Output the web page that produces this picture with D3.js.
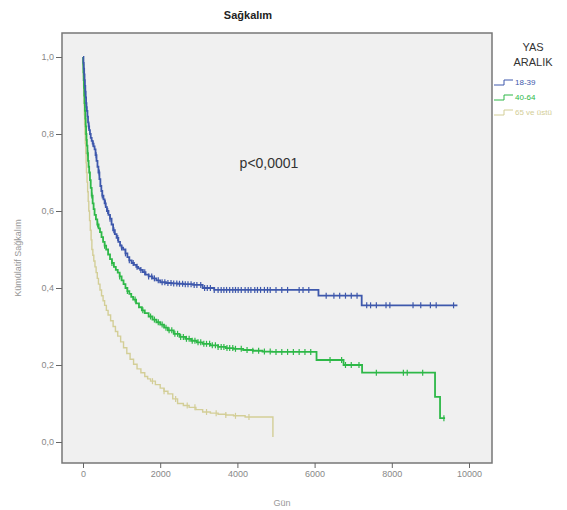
<!DOCTYPE html>
<html>
<head>
    <meta charset="utf-8" />
    <title>Sağkalım</title>
    <style>
        body { margin: 0; background: #fff; }
        text { font-family: Arial, "Liberation Sans", sans-serif; }
    </style>
</head>
<body>
<script src="https://d3js.org/d3.v7.min.js"></script>
<script>
    // groups and colours
    var groups = ["18-39", "40-64", "65 ve üstü"];
    var colors = ["#3e58ac", "#2eb848", "#d3ce97"];

    // Kaplan-Meier steps (gün, kümülatif sağkalım)
    var blueDays = [0, 10, 20, 30, 40, 50, 60, 70, 80, 90,
                    100, 115, 130, 145, 160, 180, 200, 225, 250, 275,
                    300, 325, 350, 375, 400, 425, 450, 475, 500, 530,
                    560, 590, 620, 660, 700, 740, 780, 825, 870, 915,
                    960, 1000, 1040, 1100, 1150, 1200, 1260, 1320, 1380, 1430,
                    1480, 1550, 1620, 1700, 1800, 1900, 2000, 2150, 2300, 2450,
                    2600, 2850, 3100, 3400, 6100, 7220, 9700];
    var blueSurv = [1.0, 0.985, 0.97, 0.955, 0.94, 0.925, 0.91, 0.895, 0.88, 0.87,
                    0.86, 0.845, 0.83, 0.82, 0.81, 0.80, 0.79, 0.782, 0.775, 0.768,
                    0.76, 0.745, 0.73, 0.715, 0.70, 0.683, 0.665, 0.652, 0.64, 0.63,
                    0.62, 0.61, 0.60, 0.59, 0.58, 0.565, 0.55, 0.54, 0.53, 0.52,
                    0.51, 0.505, 0.50, 0.49, 0.48, 0.472, 0.465, 0.46, 0.455, 0.451,
                    0.447, 0.441, 0.435, 0.43, 0.425, 0.42, 0.415, 0.413, 0.412, 0.411,
                    0.41, 0.408, 0.40, 0.395, 0.38, 0.355, 0.355];

    var greenDays = [0, 5, 10, 18, 25, 32, 40, 50, 60, 70,
                     80, 90, 100, 115, 130, 145, 160, 180, 200, 225,
                     250, 275, 300, 335, 370, 405, 440, 480, 520, 560,
                     600, 650, 700, 750, 800, 850, 900, 950, 1000, 1050,
                     1100, 1150, 1200, 1250, 1300, 1375, 1450, 1525, 1600, 1700,
                     1800, 1900, 2000, 2100, 2200, 2350, 2500, 2650, 2800, 2950,
                     3100, 3300, 3500, 3700, 3900, 4150, 4400, 4650, 4900, 6050,
                     6750, 7230, 9120, 9250, 9380];
    var greenSurv = [1.0, 0.98, 0.96, 0.94, 0.92, 0.90, 0.88, 0.86, 0.84, 0.82,
                     0.80, 0.785, 0.77, 0.75, 0.73, 0.715, 0.70, 0.68, 0.66, 0.64,
                     0.62, 0.605, 0.59, 0.578, 0.565, 0.555, 0.545, 0.532, 0.52, 0.51,
                     0.50, 0.487, 0.475, 0.465, 0.455, 0.447, 0.44, 0.43, 0.42, 0.41,
                     0.40, 0.392, 0.385, 0.377, 0.37, 0.36, 0.35, 0.342, 0.335, 0.326,
                     0.318, 0.311, 0.305, 0.297, 0.29, 0.281, 0.273, 0.268, 0.263, 0.259,
                     0.255, 0.251, 0.247, 0.244, 0.242, 0.239, 0.237, 0.235, 0.234, 0.213,
                     0.20, 0.18, 0.117, 0.062, 0.062];

    var yellowDays = [0, 5, 10, 15, 20, 28, 35, 42, 50, 60,
                      70, 80, 90, 105, 120, 135, 150, 170, 190, 210,
                      230, 255, 280, 310, 340, 370, 400, 440, 480, 520,
                      560, 605, 650, 715, 780, 840, 900, 975, 1050, 1135,
                      1220, 1310, 1400, 1500, 1600, 1675, 1750, 1875, 2000, 2100,
                      2200, 2325, 2450, 2600, 2750, 2925, 3100, 3300, 3500, 3700,
                      3900, 4200, 4920];
    var yellowSurv = [1.0, 0.975, 0.95, 0.925, 0.90, 0.875, 0.85, 0.825, 0.80, 0.775,
                      0.75, 0.725, 0.70, 0.675, 0.65, 0.625, 0.60, 0.575, 0.55, 0.525,
                      0.50, 0.485, 0.47, 0.455, 0.44, 0.425, 0.41, 0.395, 0.38, 0.367,
                      0.355, 0.342, 0.33, 0.315, 0.30, 0.287, 0.275, 0.26, 0.245, 0.23,
                      0.215, 0.202, 0.19, 0.18, 0.17, 0.164, 0.158, 0.149, 0.14, 0.132,
                      0.125, 0.112, 0.10, 0.095, 0.09, 0.084, 0.078, 0.075, 0.072, 0.07,
                      0.068, 0.065, 0.013];

    // censored cases (gün)
    var blueCensor = [60, 150, 260, 340, 420, 500, 580, 640, 700, 800, 900, 1000, 1100, 1200, 1300, 1400, 1500, 1600,
                      1700, 1780, 1850, 1950, 2050, 2120, 2200, 2280, 2350, 2430, 2500, 2580, 2650, 2720, 2800, 2880,
                      2950, 3050, 3150, 3220, 3300, 3400, 3500, 3580, 3650, 3720, 3800, 3880, 3950, 4020, 4100, 4200,
                      4280, 4350, 4450, 4520, 4600, 4700, 4780, 4850, 5000, 5150, 5300, 5600, 5700, 5850, 6300, 6500,
                      6650, 6800, 6950, 7100, 7350, 7450, 7600, 7850, 7950, 8550, 8750, 9000, 9150, 9600];
    var greenCensor = [120, 230, 380, 560, 750, 950, 1150, 1350, 1550, 1750, 1850, 1950, 2050, 2150, 2230, 2300, 2380,
                       2450, 2530, 2600, 2680, 2750, 2830, 2900, 2980, 3050, 3130, 3200, 3280, 3350, 3430, 3500, 3580,
                       3650, 3730, 3800, 3880, 3950, 4100, 4250, 4400, 4550, 4700, 4850, 5000, 5150, 5300, 5450, 5600,
                       5750, 5900, 6400, 6700, 6800, 6950, 7150, 7600, 8300, 8400, 8800, 9350];
    var yellowCensor = [1800, 2100, 2400, 2700, 2900, 3200, 3450, 3700, 3950, 4300];

    var yTicks = [0, 0.2, 0.4, 0.6, 0.8, 1.0];
    var xTicks = [0, 2000, 4000, 6000, 8000, 10000];

    var series = [
        {days: blueDays, surv: blueSurv, censor: blueCensor},
        {days: greenDays, surv: greenSurv, censor: greenCensor},
        {days: yellowDays, surv: yellowSurv, censor: yellowCensor}
    ];

    var width = 567, height = 510;
    var frame = {left: 62, top: 33, right: 492, bottom: 463};

    var svg = d3.select("body").append("svg")
                .attr("width", width)
                .attr("height", height);

    var x = d3.scaleLinear().domain([0, 10000]).range([83, 469]);
    var y = d3.scaleLinear().domain([0, 1]).range([442, 57]);

    svg.append("rect")
       .attr("x", frame.left)
       .attr("y", frame.top)
       .attr("width", frame.right - frame.left)
       .attr("height", frame.bottom - frame.top)
       .attr("fill", "#f0f0f0")
       .attr("stroke", "#777")
       .attr("stroke-width", 1.5);

    var fmt = d => d3.format(".1f")(d).replace(".", ",");

    var yAxis = svg.append("g")
                   .attr("transform", "translate(" + frame.left + ",0)")
                   .call(d3.axisLeft(y).tickValues(yTicks).tickFormat(fmt).tickSize(6).tickPadding(2));
    var xAxis = svg.append("g")
                   .attr("transform", "translate(0," + frame.bottom + ")")
                   .call(d3.axisBottom(x).tickValues(xTicks).tickFormat(d3.format("d")).tickSize(5).tickPadding(3));

    [yAxis, xAxis].forEach(function(a) {
        a.select(".domain").remove();
        a.selectAll(".tick line").attr("stroke", "#666");
        a.selectAll(".tick text").attr("fill", "#888").style("font-size", "9px");
    });

    // survival curves
    var line = d3.line()
                 .x(d => x(d[0]))
                 .y(d => y(d[1]))
                 .curve(d3.curveStepAfter);

    function survAt(s, t) {
        var i = d3.bisectRight(s.days, t) - 1;
        return s.surv[Math.max(i, 0)];
    }

    // draw last group first so blue sits on top
    series.slice().reverse().forEach(function(s, k) {
        var c = colors[series.length - 1 - k];
        var pts = s.days.map((d, i) => [d, s.surv[i]]);
        var g = svg.append("g");
        g.append("path")
         .attr("d", line(pts))
         .attr("fill", "none")
         .attr("stroke", c)
         .attr("stroke-width", k == 0 ? 1.4 : 1.8);
        g.selectAll("line")
         .data(s.censor)
         .enter().append("line")
         .attr("x1", d => x(d))
         .attr("x2", d => x(d))
         .attr("y1", d => y(survAt(s, d)) - 3)
         .attr("y2", d => y(survAt(s, d)) + 3)
         .attr("stroke", c)
         .attr("stroke-width", 1.2);
    });

    // texts
    svg.append("text")
       .attr("x", 248).attr("y", 19)
       .attr("text-anchor", "middle")
       .style("font-size", "11px").style("font-weight", "bold")
       .attr("fill", "#222")
       .text("Sağkalım");

    svg.append("text")
       .attr("x", 269).attr("y", 168)
       .attr("text-anchor", "middle")
       .style("font-size", "14px")
       .attr("fill", "#333")
       .text("p<0,0001");

    svg.append("text")
       .attr("transform", "translate(21,258) rotate(-90)")
       .attr("text-anchor", "middle")
       .style("font-size", "9px")
       .attr("fill", "#999")
       .text("Kümülatif Sağkalım");

    svg.append("text")
       .attr("x", 282).attr("y", 506)
       .attr("text-anchor", "middle")
       .style("font-size", "9px")
       .attr("fill", "#999")
       .text("Gün");

    // legend
    svg.append("text")
       .attr("x", 533).attr("y", 51)
       .attr("text-anchor", "middle")
       .style("font-size", "11px")
       .attr("fill", "#333")
       .text("YAS");
    svg.append("text")
       .attr("x", 533).attr("y", 66)
       .attr("text-anchor", "middle")
       .style("font-size", "11px")
       .attr("fill", "#333")
       .text("ARALIK");

    var legend = svg.append("g")
                    .selectAll("g")
                    .data(groups)
                    .enter().append("g")
                    .attr("transform", (d, i) => "translate(0," + (82 + i * 15) + ")");
    legend.append("path")
          .attr("d", "M494,3H504V-2H513")
          .attr("fill", "none")
          .attr("stroke", (d, i) => colors[i])
          .attr("stroke-width", 1);
    legend.append("text")
          .attr("x", 515).attr("y", 3)
          .style("font-size", "8px")
          .attr("fill", (d, i) => colors[i])
          .text(d => d);
</script>
</body>
</html>
